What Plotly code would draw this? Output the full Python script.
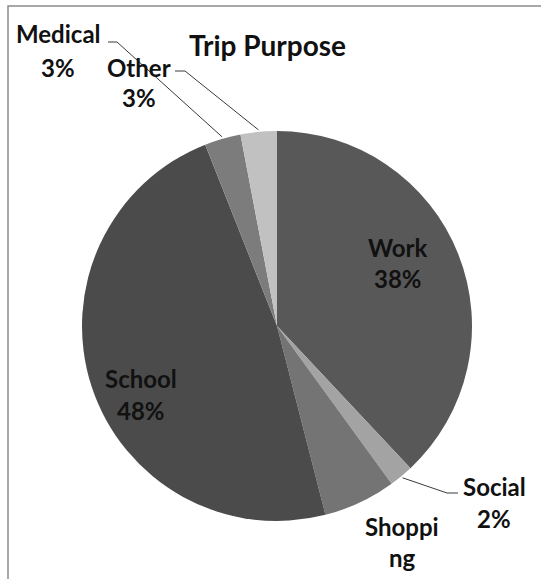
import math
import plotly.graph_objects as go

# ---- data ----
categories = ["Work", "Social", "Shopping", "School", "Medical", "Other"]
values = [38, 2, 6, 48, 3, 3]
colors = ["#585858", "#a3a3a3", "#747474", "#4b4b4b", "#7c7c7c", "#c1c1c1"]
title_text = "Trip Purpose"

# ---- layout constants (pixels) ----
W, H = 541, 579
CX, CY, R = 277, 326, 195


def px(x):
    return x / W


def py(y):
    return 1 - y / H


total = sum(values)
pcts = {c: f"{round(v / total * 100)}%" for c, v in zip(categories, values)}

# label text lines (Shopping label wraps and its percentage is clipped in the original)
label_lines = {
    "Work": ["Work", pcts["Work"]],
    "School": ["School", pcts["School"]],
    "Social": ["Social", pcts["Social"]],
    "Shopping": ["Shoppi", "ng"],
    "Medical": ["Medical", pcts["Medical"]],
    "Other": ["Other", pcts["Other"]],
}
# label centers (x, y of first line, y of second line)
label_pos = {
    "Work": (398, 247, 279),
    "School": (141, 378, 410),
    "Social": (494, 486, 518),
    "Shopping": (402, 526, 557),
    "Medical": (58, 34, 67),
    "Other": (139, 67, 98),
}
# leader line elbows: (start x, elbow x, y) ; line goes label->elbow->slice edge
leaders = {
    "Medical": (108, 117, 42),
    "Other": (175, 185, 71),
    "Social": (458, 447, 493),
}

fig = go.Figure(
    go.Pie(
        labels=categories,
        values=values,
        sort=False,
        direction="clockwise",
        rotation=0,
        marker=dict(colors=colors, line=dict(width=0)),
        textinfo="none",
        hoverinfo="label+percent",
        showlegend=False,
        domain=dict(
            x=[px(CX - R), px(CX + R)],
            y=[py(CY + R), py(CY - R)],
        ),
    )
)

font_family = "Lato, 'Open Sans', sans-serif"
annotations = []
for cat, lines in label_lines.items():
    x, y1, y2 = label_pos[cat]
    for txt, yy in zip(lines, (y1, y2)):
        annotations.append(
            dict(
                x=px(x), y=py(yy), xref="paper", yref="paper",
                text=f"<b>{txt}</b>", showarrow=False,
                xanchor="center", yanchor="middle",
                font=dict(family=font_family, size=24, color="#111111"),
            )
        )

annotations.append(
    dict(
        x=px(267), y=py(45), xref="paper", yref="paper",
        text=f"<b>{title_text}</b>", showarrow=False,
        xanchor="center", yanchor="middle",
        font=dict(family=font_family, size=28, color="#111111"),
    )
)

shapes = []
# leader lines computed from slice mid angles
cum = 0
for cat, v in zip(categories, values):
    mid = (cum + v / 2) / total * 2 * math.pi
    cum += v
    if cat not in leaders:
        continue
    ex = CX + (R + 2) * math.sin(mid)
    ey = CY - (R + 2) * math.cos(mid)
    sx, bx, ly = leaders[cat]
    path = f"M {px(sx)} {py(ly)} L {px(bx)} {py(ly)} L {px(ex)} {py(ey)}"
    shapes.append(
        dict(type="path", xref="paper", yref="paper", path=path,
             line=dict(color="#3a3a3a", width=1))
    )

# chart area border (right/bottom edges fall outside the image)
shapes.append(
    dict(type="rect", xref="paper", yref="paper",
         x0=px(8), x1=px(W + 5), y0=py(H + 5), y1=py(6),
         line=dict(color="#8c8c8c", width=1.5), fillcolor="rgba(0,0,0,0)")
)

fig.update_layout(
    width=W, height=H,
    margin=dict(l=0, r=0, t=0, b=0),
    paper_bgcolor="white",
    plot_bgcolor="white",
    annotations=annotations,
    shapes=shapes,
)

fig.write_html(
    "out.html",
    config={"displayModeBar": False},
    post_script="document.body.style.margin='0';document.body.style.overflow='hidden';",
)
